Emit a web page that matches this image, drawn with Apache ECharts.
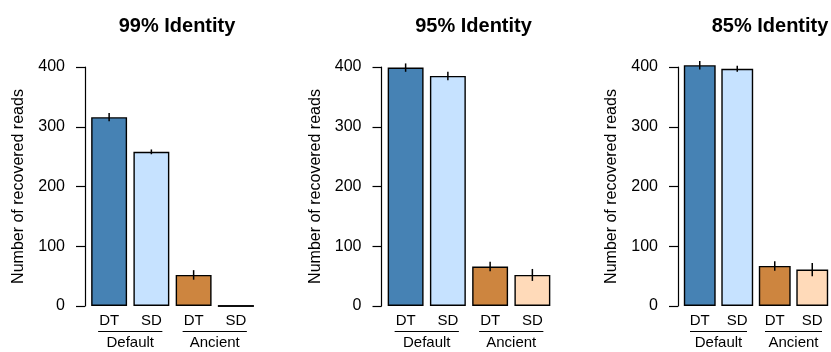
<!DOCTYPE html>
<html>
<head>
<meta charset="utf-8">
<script src="https://cdn.jsdelivr.net/npm/echarts@6/dist/echarts.min.js"></script>
<style>
html,body{margin:0;padding:0;background:#fff;}
#chart{width:831px;height:352px;}
</style>
</head>
<body>
<div id="chart"></div>
<script>
// ---- data ----
const panelTitles = ["99% Identity", "95% Identity", "85% Identity"];
const barLabels = ["DT", "SD", "DT", "SD"];
const groupNames = ["Default", "Ancient"];
const yTicks = [0, 100, 200, 300, 400];
const yAxisName = "Number of recovered reads";
const values99 = [316, 258, 52, 0];
const errors99 = [7, 4, 8, 0];
const values95 = [399, 385, 66, 52];
const errors95 = [7, 7, 8, 10];
const values85 = [403, 397, 67, 61];
const errors85 = [7, 5, 8, 11];
const barColors = ["#4682B4", "#C6E2FF", "#CD853F", "#FFDAB9"];

const panelValues = [values99, values95, values85];
const panelErrors = [errors99, errors95, errors85];

const FONT = "Liberation Sans, Arial, Helvetica, sans-serif";
const gridLefts = [88, 384.5, 681];
const gridWidth = 169;

const grids = [], xAxes = [], yAxes = [], series = [], titles = [];
panelTitles.forEach((t, p) => {
  grids.push({left: gridLefts[p], width: gridWidth, top: 67, bottom: 46, containLabel: false});
  titles.push({
    text: t, left: gridLefts[p] - 3 + 87, top: 11, textAlign: 'center',
    textStyle: {fontFamily: FONT, fontSize: 20, fontWeight: 'bold', color: '#000'}
  });
  xAxes.push({
    type: 'category', gridIndex: p, data: barLabels,
    axisLine: {show: false}, axisTick: {show: false},
    axisLabel: {fontFamily: FONT, fontSize: 15, color: '#000', margin: 7, interval: 0}
  });
  yAxes.push({
    type: 'value', gridIndex: p, min: yTicks[0], max: yTicks[yTicks.length - 1],
    interval: yTicks[1] - yTicks[0], offset: 3,
    axisLine: {show: true, lineStyle: {color: '#000', width: 1.2}},
    axisTick: {show: true, length: 9, lineStyle: {color: '#000', width: 1.2}},
    splitLine: {show: false},
    axisLabel: {fontFamily: FONT, fontSize: 16, color: '#000', margin: 20},
    name: yAxisName, nameLocation: 'middle', nameGap: 58,
    nameTextStyle: {fontFamily: FONT, fontSize: 16, color: '#000'}
  });
  const vals = panelValues[p], errs = panelErrors[p];
  series.push({
    type: 'bar', xAxisIndex: p, yAxisIndex: p, clip: false, barWidth: '85%', z: 2,
    data: vals.map((v, i) => ({
      value: v,
      itemStyle: {color: barColors[i], borderColor: '#000', borderWidth: 1.4}
    })),
    silent: true
  });
  series.push({
    type: 'custom', xAxisIndex: p, yAxisIndex: p, clip: false, silent: true, z: 5,
    data: vals.map((v, i) => [i, v - errs[i], v + errs[i]]).filter((d, i) => errs[i] > 0),
    renderItem: (params, api) => {
      const a = api.coord([api.value(0), api.value(1)]);
      const b = api.coord([api.value(0), api.value(2)]);
      return {type: 'line', shape: {x1: a[0], y1: a[1], x2: b[0], y2: b[1]},
        style: {stroke: '#000', lineWidth: 1.5}};
    }
  });
  // zero-height bars drawn as baseline segments
  series.push({
    type: 'custom', xAxisIndex: p, yAxisIndex: p, clip: false, silent: true, z: 5,
    data: vals.map((v, i) => [i, v]).filter(d => d[1] === 0),
    renderItem: (params, api) => {
      const c = api.coord([api.value(0), 0]);
      const w = api.size([1, 0])[0] * 0.85;
      return {type: 'line', shape: {x1: c[0] - w / 2, y1: c[1], x2: c[0] + w / 2, y2: c[1]},
        style: {stroke: '#000', lineWidth: 1.4}};
    }
  });
  // group labels under the category pairs
  series.push({
    type: 'custom', xAxisIndex: p, yAxisIndex: p, clip: false, silent: true, z: 5,
    data: groupNames.map((g, k) => [k * 2, k * 2 + 1, k]),
    renderItem: (params, api) => {
      const a = api.coord([api.value(0), 0]);
      const b = api.coord([api.value(1), 0]);
      const half = api.size([1, 0])[0] * 0.26;
      const y = Math.round(a[1] + 25) + 0.5;
      return {type: 'group', children: [
        {type: 'line', shape: {x1: a[0] - half, y1: y, x2: b[0] + half, y2: y},
          style: {stroke: '#000', lineWidth: 1}},
        {type: 'text', style: {text: groupNames[api.value(2)], x: (a[0] + b[0]) / 2, y: y + 11,
          textAlign: 'center', textVerticalAlign: 'middle',
          font: '15px ' + FONT, fill: '#000'}}
      ]};
    }
  });
});

const chart = echarts.init(document.getElementById('chart'), null, {renderer: 'canvas'});
chart.setOption({
  animation: false,
  backgroundColor: '#fff',
  title: titles,
  grid: grids,
  xAxis: xAxes,
  yAxis: yAxes,
  series: series
});
</script>
</body>
</html>
